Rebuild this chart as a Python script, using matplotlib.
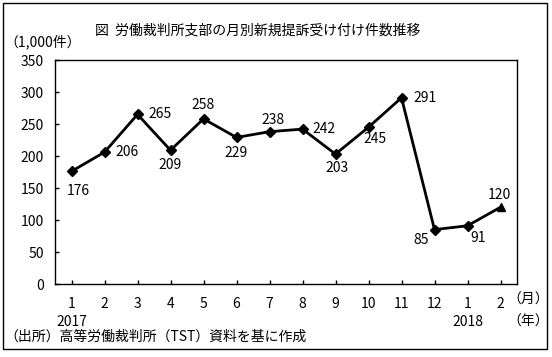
import matplotlib
matplotlib.use('Agg')
import matplotlib.pyplot as plt
from matplotlib.transforms import blended_transform_factory

plt.rcParams['font.family'] = ['Noto Sans CJK JP', 'DejaVu Sans']

months = ['1', '2', '3', '4', '5', '6', '7', '8', '9', '10', '11', '12', '1', '2']
years = {0: '2017', 12: '2018'}
cases = [176, 206, 265, 209, 258, 229, 238, 242, 203, 245, 291, 85, 91, 120]

# label offsets in pixels (dx, dy, ha)
label_pos = [(7, -20, 'center'), (11, 0, 'left'), (11, 0, 'left'), (0, -15, 'center'),
             (0, 14, 'center'), (0, -16, 'center'), (3, 12, 'center'), (10, 0, 'left'),
             (2, -14, 'center'), (7, -12, 'center'), (12, 0, 'left'), (-13, -10, 'center'),
             (11, -12, 'center'), (-1, 12, 'center')]

fig = plt.figure(figsize=(5.52, 3.57), dpi=100)
ax = fig.add_axes([55 / 552, 73 / 357, 462 / 552, 224 / 357])

x = list(range(len(cases)))
ax.plot(x[:-1], cases[:-1], color='black', lw=2, marker='D', ms=5, zorder=3)
ax.plot(x[-2:], cases[-2:], color='black', lw=2, zorder=3)
ax.plot(x[-1], cases[-1], color='black', marker='^', ms=6, zorder=3)

for i, v in enumerate(cases):
    dx, dy, ha = label_pos[i]
    ax.annotate(str(v), (i, v), xytext=(dx, dy), textcoords='offset pixels',
                ha=ha, va='center', fontsize=10)

ax.set_xlim(-0.5, len(cases) - 0.5)
ax.set_ylim(0, 350)
ax.set_yticks(range(0, 351, 50))
ax.set_xticks(x)
ax.set_xticklabels(months, fontsize=10)
ax.tick_params(axis='both', direction='in', length=3, width=1, labelsize=10)
ax.tick_params(axis='x', pad=9)
ax.tick_params(axis='y', pad=8)
for s in ax.spines.values():
    s.set_linewidth(1)

trans = blended_transform_factory(ax.transData, fig.transFigure)
for i, yr in years.items():
    ax.text(i, 1 - 322 / 357, yr, transform=trans, ha='center', va='center', fontsize=10)
fig.text(528 / 552, 1 - 300 / 357, '（月）', ha='center', va='center', fontsize=10)
fig.text(528 / 552, 1 - 322 / 357, '（年）', ha='center', va='center', fontsize=10)

fig.text(258 / 552, 1 - 30 / 357, '図  労働裁判所支部の月別新規提訴受け付け件数推移',
         ha='center', va='center', fontsize=10)
fig.text(4 / 552, 1 - 42 / 357, '（1,000件）', ha='left', va='center', fontsize=10)
fig.text(4 / 552, 1 - 337 / 357, '（出所）高等労働裁判所（TST）資料を基に作成',
         ha='left', va='center', fontsize=10)

fig.add_artist(plt.Rectangle((3 / 552, 8 / 357), 544 / 552, 346 / 357,
                             transform=fig.transFigure, fill=False, lw=1, ec='black'))

fig.savefig('out.png', dpi=100)
